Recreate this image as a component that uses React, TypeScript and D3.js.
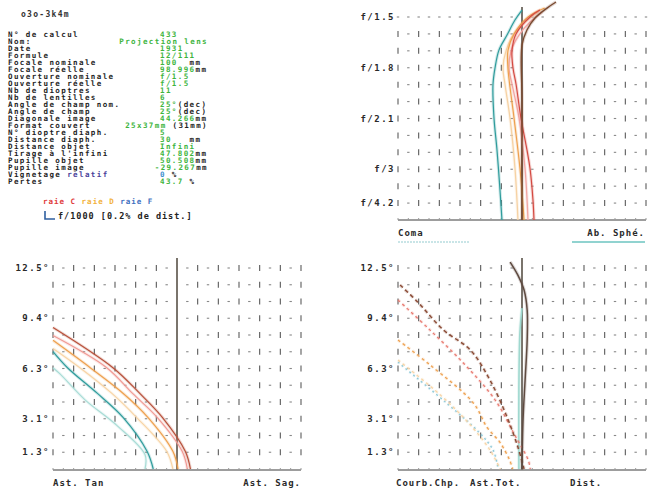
import { useEffect, useRef } from "react"
import * as d3 from "d3"

const W = 656
const H = 491
const FONT = "'DejaVu Sans Mono', 'Liberation Mono', monospace"

// fiche de calcul
const title = "o3o-3k4m"
const infoLabels = [
  "N° de calcul", "Nom:", "Date", "Formule", "Focale nominale", "Focale réelle",
  "Ouverture nominale", "Ouverture réelle", "Nb de dioptres", "Nb de lentilles",
  "Angle de champ nom.", "Angle de champ", "Diagonale image", "Format couvert",
  "N° dioptre diaph.", "Distance diaph.", "Distance objet", "Tirage à l'infini",
  "Pupille objet", "Pupille image", "Vignetage relatif", "Pertes",
]
const infoValues = [
  "433", "Projection lens", "1931", "12/111", "100  mm", "98.996mm",
  "f/1.5", "f/1.5", "11", "6", "25°(dec)", "25°(dec)", "44.266mm", "25x37mm (31mm)",
  "5", "30   mm", "Infini", "47.802mm", "50.508mm", "-29.267mm", "0 %", "43.7 %",
]

// legende
const raies = ["raie C", "raie D", "raie F"]
const raieColors = ["#e0393b", "#f2b13a", "#3f6fc0"]
const scaleNote = "f/1000 [0.2% de dist.]"

// haut droite : ab. spherique / coma, [mm, hauteur pupille relative]
const apertureLabels = ["f/1.5", "f/1.8", "f/2.1", "f/3", "f/4.2"]
const labelRows = [0, 3, 6, 9, 11]
const sphC = [[0.116, 0], [0.106, 0.1], [0.077, 0.256], [0.048, 0.345], [-0.01, 0.502], [-0.058, 0.67], [-0.087, 0.749], [-0.097, 0.833], [-0.058, 0.916], [0.077, 1.0], [0.174, 1.034]]
const sphD = [[0.02, 0], [-0.02, 0.256], [-0.077, 0.502], [-0.136, 0.749], [-0.136, 0.833], [-0.077, 0.916], [0.058, 1.0], [0.22, 1.044]]
const sphF = [[-0.194, 0], [-0.213, 0.148], [-0.242, 0.345], [-0.271, 0.502], [-0.281, 0.665], [-0.261, 0.749], [-0.223, 0.837], [-0.145, 0.911], [-0.068, 0.985], [0, 1.034]]
const comaC = [[0.058, 0], [0.029, 0.256], [-0.029, 0.502], [-0.097, 0.67], [-0.126, 0.749], [-0.106, 0.833], [-0.029, 0.911], [0.077, 0.975], [0.194, 1.025]]
const comaD = [[-0.039, 0], [-0.068, 0.256], [-0.116, 0.502], [-0.165, 0.67], [-0.184, 0.749], [-0.155, 0.833], [-0.087, 0.911], [0.029, 0.975], [0.155, 1.025]]
const comaTot = [[0, 0], [0, 0.591], [0, 0.862], [0.048, 0.936], [0.126, 0.995], [0.242, 1.044], [0.329, 1.074]]

// bas gauche : astigmatisme, [mm, angle de champ]
const fieldLabels = ["12.5°", "9.4°", "6.3°", "3.1°", "1.3°"]
const astC = [[-1.2, 8.8], [-0.62, 6.3], [-0.36, 4.7], [-0.14, 3.2], [0.08, 1.1], [0.13, 0]]
const astC2 = [[-1.2, 8.3], [-0.68, 6.3], [-0.43, 4.7], [-0.19, 3.2], [0.05, 1.1], [0.1, 0]]
const astD = [[-1.2, 8.0], [-0.84, 6.3], [-0.52, 4.7], [-0.28, 3.2], [-0.04, 1.1], [0.01, 0]]
const astD2 = [[-1.2, 7.5], [-0.94, 6.3], [-0.63, 4.7], [-0.39, 3.2], [-0.1, 1.1], [-0.04, 0]]
const astF = [[-1.2, 7.3], [-1.06, 6.3], [-0.77, 4.7], [-0.52, 3.2], [-0.29, 1.1], [-0.23, 0]]
const astF2 = [[-1.2, 6.3], [-1.13, 5.9], [-0.89, 4.3], [-0.58, 2.7], [-0.31, 0.9], [-0.31, 0]]

// bas droite : courbure de champ, ast. tot. [mm, angle], distorsion [%, angle]
const courbC = [[-1.18, 11.44], [-1.01, 10.39], [-0.76, 8.64], [-0.5, 7.4], [-0.31, 5.53], [-0.145, 3.23], [-0.04, 1.37], [0.02, 0]]
const courbC2 = [[-1.2, 10.51], [-0.89, 8.64], [-0.55, 6.47], [-0.26, 4.29], [-0.07, 2.11], [0.06, 0.56], [0.08, 0]]
const courbD = [[-1.2, 8.02], [-0.89, 6.47], [-0.47, 4.1], [-0.34, 2.61], [-0.21, 1.62], [-0.12, 0.56], [-0.09, 0]]
const courbD2 = [[-1.2, 6.78], [-0.79, 4.6], [-0.5, 2.74], [-0.31, 1.18], [-0.21, 0]]
const courbF = [[-1.2, 6.65], [-1.11, 6.16], [-0.73, 4.1], [-0.41, 2.24], [-0.28, 1.18], [-0.23, 0]]
const astTot = [[-0.03, 0], [-0.03, 5], [-0.02, 8.5], [0, 10]]
const dist = [[0, 0], [0.02, 3.05], [0.06, 5.53], [0.1, 8.02], [0.1, 9.89], [0.04, 11.13], [-0.08, 12.06], [-0.23, 12.87]]

const App = () => {
  const svgRef = useRef(null)

  useEffect(() => {
    const svg = d3.select(svgRef.current)
    svg.selectAll("*").remove()
    svg.append("rect").attr("width", W).attr("height", H).attr("fill", "#fff")

    const root = svg.append("g")
      .attr("font-family", FONT)
      .attr("font-weight", "bold")

    // fiche
    const lineY = d3.scaleLinear().domain([0, 21]).range([34, 181])
    root.append("text")
      .attr("x", 21).attr("y", 14).attr("dy", "0.35em")
      .attr("font-size", 8).attr("letter-spacing", 1.3).attr("fill", "#333")
      .text(title)

    const info = root.append("g").attr("font-size", 7.5).attr("letter-spacing", 1.4)
    infoLabels.forEach((lab, i) => {
      const t = info.append("text").attr("x", 8).attr("y", lineY(i)).attr("dy", "0.35em").attr("fill", "#1e1e1e")
      if (lab.endsWith(" relatif")) {
        t.append("tspan").text(lab.replace(" relatif", " "))
        t.append("tspan").attr("fill", "#4a3f9a").text("relatif")
      } else {
        t.text(lab)
      }
    })
    infoValues.forEach((val, i) => {
      const m = val.match(/^(.*?)(\s*\(.*\)|\s*mm|\s*%)?$/)
      const main = m ? m[1] : val
      const unit = m && m[2] ? m[2] : ""
      const long = val.length > 8
      const t = info.append("text")
        .attr("x", long ? 208 : 160)
        .attr("text-anchor", long ? "end" : "start")
        .attr("y", lineY(i)).attr("dy", "0.35em")
        .style("white-space", "pre")
      t.append("tspan").attr("fill", main === "0" ? "#3a8fd0" : "#3db43d").text(main)
      if (unit) t.append("tspan").attr("fill", "#1e1e1e").text(unit)
    })

    // legende raies
    const leg = root.append("text").attr("x", 43).attr("y", 201).attr("dy", "0.35em")
      .attr("font-size", 7.5).attr("letter-spacing", 1).style("white-space", "pre")
    raies.forEach((r, i) => {
      leg.append("tspan").attr("fill", raieColors[i]).text((i ? " " : "") + r)
    })
    root.append("path").attr("d", "M45,211V219H55").attr("fill", "none")
      .attr("stroke", "#2f5fa0").attr("stroke-width", 1.6)
    root.append("text").attr("x", 58).attr("y", 216).attr("dy", "0.35em")
      .attr("font-size", 8.5).attr("letter-spacing", 1).attr("fill", "#222").text(scaleNote)

    // scales
    const xTR = d3.scaleLinear().domain([-1.2, 1.2]).range([398, 646])
    const yTR = d3.scaleLinear().domain([0, 1]).range([220, 17])
    const xBL = d3.scaleLinear().domain([-1.2, 1.2]).range([53, 301])
    const xBR = d3.scaleLinear().domain([-1.2, 1.2]).range([398, 646])
    const xDist = d3.scaleLinear().domain([-2.4, 2.4]).range([398, 646])
    const yField = d3.scaleLinear().domain([0, 12.5]).range([469, 268])

    const rowsTR = d3.range(12).map(k => yTR(1 - k / 12))
    const rowsField = d3.range(12).map(k => yField(12.5 * (1 - k / 12)))
    const cols = d3.range(25).map(i => -1.2 + i * 0.1)

    const drawGrid = (x, rows, axisY, centerTop, dotsRow0) => {
      const g = root.append("g").attr("stroke", "#5a5a5a")
      rows.forEach((y, k) => {
        cols.forEach((c, i) => {
          if (i === 12) return
          const px = x(c)
          if (i % 2 === 0 && !(dotsRow0 && k === 0)) {
            g.append("line").attr("x1", px).attr("x2", px).attr("y1", y - 3).attr("y2", y + 3).attr("stroke-width", 1.1)
          } else {
            g.append("line").attr("x1", px - 1.2).attr("x2", px + 1.2).attr("y1", y).attr("y2", y).attr("stroke-width", 1.1).attr("stroke", "#888")
          }
        })
      })
      // axe horizontal
      g.append("line").attr("x1", x.range()[0]).attr("x2", x.range()[1])
        .attr("y1", axisY).attr("y2", axisY).attr("stroke", "#7d7d7d").attr("stroke-width", 1.4)
      cols.forEach(c => {
        g.append("line").attr("x1", x(c)).attr("x2", x(c)).attr("y1", axisY - 2).attr("y2", axisY)
          .attr("stroke", "#9a9a9a").attr("stroke-width", 1)
      })
      // axe central
      g.append("line").attr("x1", x(0)).attr("x2", x(0)).attr("y1", centerTop).attr("y2", axisY)
        .attr("stroke", "#7a746c").attr("stroke-width", 2)
    }

    drawGrid(xTR, rowsTR, 220, 7, true)
    drawGrid(xBL, rowsField, 470, 258, false)
    drawGrid(xBR, rowsField, 470, 258, false)

    // libelles des lignes
    const rowLabels = (labels, rows, xEnd) => {
      root.append("g").attr("font-size", 9).attr("letter-spacing", 1.5)
        .attr("text-anchor", "end").attr("fill", "#2a2a2a")
        .selectAll("text").data(labels).join("text")
        .attr("x", xEnd).attr("y", (d, i) => rows[labelRows[i]]).attr("dy", "0.35em")
        .text(d => d)
    }
    rowLabels(apertureLabels, rowsTR, 395)
    rowLabels(fieldLabels, rowsField, 50)
    rowLabels(fieldLabels, rowsField, 395)

    // courbes
    const drawCurve = (data, x, y, color, width, dash) => {
      const line = d3.line().x(d => x(d[0])).y(d => y(d[1])).curve(d3.curveCatmullRom)
      root.append("path").attr("d", line(data)).attr("fill", "none")
        .attr("stroke", color).attr("stroke-width", width + 2).attr("stroke-opacity", 0.22)
        .attr("stroke-dasharray", dash || null)
      root.append("path").attr("d", line(data)).attr("fill", "none")
        .attr("stroke", color).attr("stroke-width", width)
        .attr("stroke-dasharray", dash || null)
    }

    drawCurve(comaD, xTR, yTR, "#f6d2a4", 1.3)
    drawCurve(comaC, xTR, yTR, "#f2a6a2", 1.3)
    drawCurve(sphD, xTR, yTR, "#eea04e", 1.2)
    drawCurve(sphF, xTR, yTR, "#2f9c9c", 1.2)
    drawCurve(sphC, xTR, yTR, "#d44a42", 1.2)
    drawCurve(comaTot, xTR, yTR, "#7a4a30", 1.4)

    drawCurve(astF2, xBL, yField, "#a8dcd6", 1.2)
    drawCurve(astD2, xBL, yField, "#f8d4a6", 1.2)
    drawCurve(astF, xBL, yField, "#2f9c9c", 1.2)
    drawCurve(astD, xBL, yField, "#eea04e", 1.2)
    drawCurve(astC2, xBL, yField, "#f09a94", 1.2)
    drawCurve(astC, xBL, yField, "#b8503a", 1.2)

    drawCurve(astTot, xBR, yField, "#9fd8cf", 1.6)
    drawCurve(courbF, xBR, yField, "#8cc8d8", 1.2, "2,3")
    drawCurve(courbD2, xBR, yField, "#f8d4a6", 1.2, "3,3")
    drawCurve(courbD, xBR, yField, "#eea04e", 1.2, "3,3")
    drawCurve(courbC2, xBR, yField, "#e87a70", 1.2, "3,3")
    drawCurve(courbC, xBR, yField, "#8a4a34", 1.4, "4,3")
    drawCurve(dist, xDist, yField, "#5e4a40", 1.5)

    // titres d'axes
    const axisTitle = (txt, x, y, anchor, ul) => {
      root.append("text").attr("x", x).attr("y", y).attr("dy", "0.35em")
        .attr("font-size", 9).attr("letter-spacing", 1).attr("text-anchor", anchor)
        .attr("fill", "#2a2a2a").text(txt)
      if (ul) {
        root.append("line").attr("x1", ul[0]).attr("x2", ul[1]).attr("y1", y + 9).attr("y2", y + 9)
          .attr("stroke", ul[2]).attr("stroke-width", 1.5).attr("stroke-dasharray", ul[3] || null)
      }
    }
    axisTitle("Coma", 398, 233, "start", [398, 470, "#b8dde0", "2,1"])
    axisTitle("Ab. Sphé.", 645, 233, "end", [572, 645, "#6cc4c0"])
    axisTitle("Ast. Tan", 53, 483, "start", null)
    axisTitle("Ast. Sag.", 301, 483, "end", [236, 301, "#6cc4c0"])
    axisTitle("Courb.Chp.", 396, 483, "start", null)
    axisTitle("Ast.Tot.", 470, 483, "start", [470, 524, "#cfe8ea"])
    axisTitle("Dist.", 570, 483, "start", [570, 645, "#6cc4c0"])
  }, [])

  return (
    <svg ref={svgRef} width={W} height={H}
      style={{ position: "absolute", left: 0, top: 0, display: "block" }} />
  )
}

export default App
